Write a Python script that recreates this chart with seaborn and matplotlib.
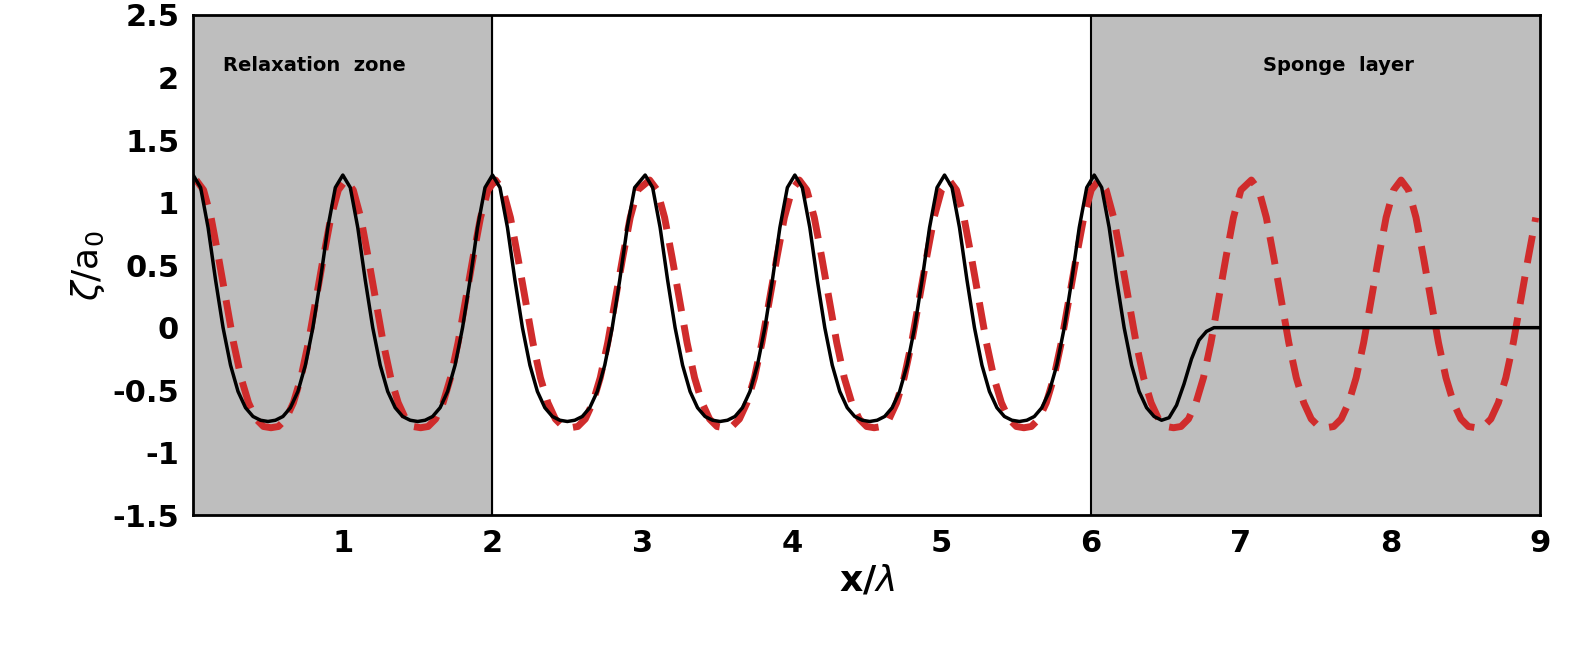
import numpy as np
import matplotlib
matplotlib.use("Agg")
import matplotlib.pyplot as plt
import seaborn as sns

# one-wave profiles (crest to crest, phase step 0.05)
phase = [0.0, 0.05, 0.1, 0.15, 0.2, 0.25, 0.3, 0.35, 0.4, 0.45, 0.5,
         0.55, 0.6, 0.65, 0.7, 0.75, 0.8, 0.85, 0.9, 0.95]
num_profile = [1.22, 1.12, 0.80, 0.38, 0.0, -0.30, -0.51, -0.64, -0.71, -0.74, -0.75,
               -0.74, -0.71, -0.64, -0.51, -0.30, 0.0, 0.38, 0.80, 1.12]
ana_profile = [1.18, 1.10, 0.88, 0.56, 0.22, -0.12, -0.40, -0.60, -0.73, -0.79, -0.80,
               -0.79, -0.73, -0.60, -0.40, -0.12, 0.22, 0.56, 0.88, 1.10]
num_crests = [0.0, 1.0, 2.0, 3.02, 4.02, 5.02]
ana_crests = [-0.98, 0.02, 1.02, 2.02, 3.05, 4.05, 5.05, 6.05, 7.07, 8.07, 9.07]
# last numerical wave damped in the sponge layer
sponge_x = [6.02, 6.07, 6.12, 6.17, 6.22, 6.27, 6.32, 6.37, 6.42, 6.47, 6.52,
            6.57, 6.62, 6.67, 6.72, 6.77, 6.82, 6.87, 7.5, 8.0, 8.5, 9.0]
sponge_y = [1.22, 1.12, 0.80, 0.38, 0.0, -0.30, -0.51, -0.64, -0.71, -0.74, -0.72,
            -0.62, -0.45, -0.25, -0.10, -0.03, 0.0, 0.0, 0.0, 0.0, 0.0, 0.0]

def build(crests, profile):
    xs, ys = [], []
    for c in crests:
        xs += [c + p for p in phase]
        ys += profile
    xs, ys = np.array(xs), np.array(ys)
    m = (xs >= 0) & (xs <= 9.0)
    return xs[m], ys[m]

nx, ny = build(num_crests, num_profile)
nx = np.concatenate([nx, sponge_x])
ny = np.concatenate([ny, sponge_y])
ax_, ay_ = build(ana_crests, ana_profile)

sns.set_style("white")
fig = plt.figure(figsize=(15.83, 6.49), dpi=100)
ax = fig.add_axes([0.122, 0.206, 0.851, 0.771])

ax.axvspan(0, 2, color="#bebebe", zorder=0)
ax.axvspan(6, 9, color="#bebebe", zorder=0)
ax.axvline(2, color="k", lw=1.5)
ax.axvline(6, color="k", lw=1.5)

sns.lineplot(x=ax_, y=ay_, ax=ax, color="#d02c2c", lw=5, linestyle=(0, (4, 2)), sort=False)
sns.lineplot(x=nx, y=ny, ax=ax, color="black", lw=2.5, sort=False)

ax.text(0.2, 2.05, "Relaxation  zone", fontsize=14, fontweight="bold", color="k")
ax.text(7.15, 2.05, "Sponge  layer", fontsize=14, fontweight="bold", color="k")

ax.set_xlim(0, 9)
ax.set_ylim(-1.5, 2.5)
ax.set_xticks(range(1, 10))
yt = np.arange(-1.5, 2.51, 0.5)
ax.set_yticks(yt)
ax.set_yticklabels([f"{v:g}" for v in yt])
ax.tick_params(labelsize=22, length=0, pad=10, labelcolor="k")
for lab in ax.get_xticklabels() + ax.get_yticklabels():
    lab.set_fontweight("bold")
ax.set_xlabel(r"x/$\lambda$", fontsize=26, fontweight="bold", color="k")
ax.set_ylabel(r"$\zeta$/a$_0$", fontsize=26, color="k")
for s in ax.spines.values():
    s.set_color("k")
    s.set_linewidth(2)

fig.savefig("out.png", dpi=100)
